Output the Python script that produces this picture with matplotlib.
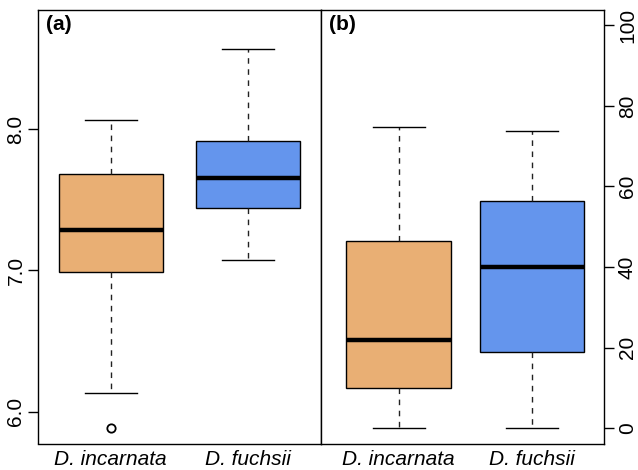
import matplotlib
matplotlib.use("Agg")
import matplotlib.pyplot as plt

plt.rcParams['font.family'] = ['Liberation Sans', 'DejaVu Sans']

species = ["D. incarnata", "D. fuchsii"]
colors = ["#E9AF74", "#6495ED"]

# panel (a): whisker low, Q1, median, Q3, whisker high, outliers
a_stats = [
    dict(whislo=6.13, q1=6.99, med=7.283, q3=7.68, whishi=8.064, fliers=[5.887]),
    dict(whislo=7.076, q1=7.44, med=7.651, q3=7.915, whishi=8.564, fliers=[]),
]
# panel (b)
b_stats = [
    dict(whislo=0.0, q1=9.9, med=21.9, q3=46.4, whishi=74.8, fliers=[]),
    dict(whislo=0.0, q1=19.0, med=40.0, q3=56.3, whishi=73.8, fliers=[]),
]

fig = plt.figure(figsize=(6.38, 4.70), dpi=100)
ax1 = fig.add_axes([38 / 638, 26.5 / 470, 283 / 638, 434 / 470])
ax2 = fig.add_axes([321 / 638, 26.5 / 470, 283 / 638, 434 / 470])


def draw(ax, stats, width):
    stats = [dict(s, label=n) for s, n in zip(stats, species)]
    bp = ax.bxp(stats, positions=[1, 2], widths=width, patch_artist=True,
                showfliers=True,
                boxprops=dict(linewidth=1.0, edgecolor="black"),
                medianprops=dict(color="black", linewidth=3.2, solid_capstyle="butt"),
                whiskerprops=dict(color="#222222", linewidth=1.0, linestyle=(0, (4, 4))),
                capprops=dict(color="black", linewidth=1.0),
                flierprops=dict(marker="o", markersize=6, markerfacecolor="none",
                                markeredgecolor="black", markeredgewidth=1.3))
    for patch, c in zip(bp["boxes"], colors):
        patch.set_facecolor(c)
    for cap in bp["caps"]:
        x0, x1 = cap.get_xdata()
        m = (x0 + x1) / 2
        cap.set_xdata([m - width / 4, m + width / 4])
    ax.set_xticks([1, 2])
    ax.set_xticklabels(species, fontsize=15, fontstyle="italic")
    ax.tick_params(axis="x", length=0, pad=5)
    for sp in ax.spines.values():
        sp.set_linewidth(1.0)


draw(ax1, a_stats, 0.76)
ax1.set_xlim(0.47, 2.53)
ax1.set_ylim(5.775, 8.846)
ax1.set_yticks([6.0, 7.0, 8.0])
ax1.set_yticklabels(["6.0", "7.0", "8.0"], rotation=90, va="center", fontsize=15)
ax1.tick_params(axis="y", length=7, width=1.0, pad=2)
ax1.text(0.03, 0.988, "(a)", transform=ax1.transAxes, fontsize=15,
         fontweight="bold", va="top", ha="left")

draw(ax2, b_stats, 0.785)
ax2.set_xlim(0.416, 2.543)
ax2.set_ylim(-3.77, 103.9)
ax2.yaxis.tick_right()
ax2.set_yticks([0, 20, 40, 60, 80, 100])
ax2.set_yticklabels(["0", "20", "40", "60", "80", "100"], rotation=90,
                    va="center", fontsize=15)
ax2.tick_params(axis="y", length=7, width=1.0, pad=3)
ax2.text(0.03, 0.988, "(b)", transform=ax2.transAxes, fontsize=15,
         fontweight="bold", va="top", ha="left")

fig.savefig("out.png", dpi=100)
